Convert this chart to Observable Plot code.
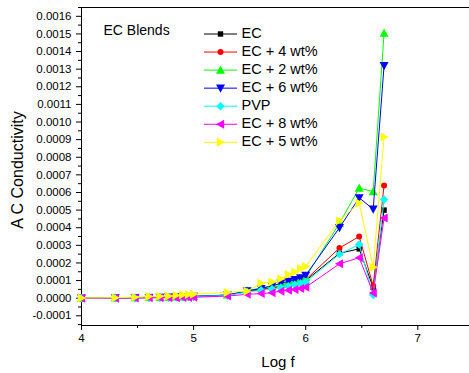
<!DOCTYPE html>
<html>
<head>
<meta charset="utf-8">
<script src="https://cdn.jsdelivr.net/npm/d3@7"></script>
<script src="https://cdn.jsdelivr.net/npm/@observablehq/plot@0.6"></script>
<style>
  html, body { margin: 0; padding: 0; background: #fff; }
  #chart svg { display: block; }
</style>
</head>
<body>
<div id="chart"></div>
<script>
// ---- data ----
const logF = [4, 4.301, 4.477, 4.602, 4.699, 4.778, 4.845, 4.903, 4.954, 5,
  5.301, 5.477, 5.602, 5.699, 5.778, 5.845, 5.903, 5.954, 6,
  6.301, 6.477, 6.602, 6.699];

const EC   = [0, 2, 3, 4, 5, 6, 6, 7, 8, 9, 16, 38, 48, 58, 66, 75, 84, 92, 100, 255, 280, 60, 500].map(v => v * 1e-6);
const EC4  = [0, 2, 3, 4, 5, 6, 7, 8, 9, 10, 17, 40, 50, 60, 70, 80, 90, 98, 105, 285, 350, 70, 640].map(v => v * 1e-6);
const EC2  = [0, 2, 3, 4, 5, 6, 7, 8, 9, 10, 18, 42, 58, 70, 80, 90, 100, 110, 120, 425, 625, 605, 1505].map(v => v * 1e-6);
const EC6  = [0, 2, 3, 4, 5, 6, 7, 8, 9, 10, 18, 42, 55, 70, 85, 95, 105, 115, 130, 400, 570, 505, 1320].map(v => v * 1e-6);
const PVP  = [0, 1, 2, 3, 4, 5, 6, 7, 8, 9, 15, 35, 45, 52, 60, 68, 76, 84, 92, 250, 305, 18, 560].map(v => v * 1e-6);
const EC8  = [-1, 0, 1, 2, 2, 3, 3, 4, 4, 5, 12, 22, 26, 31, 40, 45, 49, 55, 62, 195, 230, 30, 455].map(v => v * 1e-6);
const EC5  = [1, 3, 6, 9, 11, 13, 16, 19, 21, 23, 33, 40, 85, 92, 110, 135, 148, 168, 180, 440, 540, 176, 915].map(v => v * 1e-6);

const seriesNames = ["EC", "EC + 4 wt%", "EC + 2 wt%", "EC + 6 wt%", "PVP", "EC + 8 wt%", "EC + 5 wt%"];
const seriesValues = [EC, EC4, EC2, EC6, PVP, EC8, EC5];
const seriesColors = ["#000000", "#ff0000", "#00ff00", "#0000ff", "#00ffff", "#ff00ff", "#ffff00"];

const xTicks = [4, 5, 6, 7];
const xMinorTicks = [4.5, 5.5, 6.5];
const yTicks = [-0.0001, 0, 0.0001, 0.0002, 0.0003, 0.0004, 0.0005, 0.0006, 0.0007, 0.0008,
  0.0009, 0.0010, 0.0011, 0.0012, 0.0013, 0.0014, 0.0015, 0.0016];
const yMinorTicks = [-0.00015, -0.00005, 0.00005, 0.00015, 0.00025, 0.00035, 0.00045, 0.00055,
  0.00065, 0.00075, 0.00085, 0.00095, 0.00105, 0.00115, 0.00125, 0.00135, 0.00145, 0.00155, 0.00165];
const xDomain = [4, 7.461];
const yDomain = [-0.000155, 0.00165];

const chartTitle = "EC Blends";
const xLabel = "Log f";
const yLabel = "A C Conductivity";

// ---- symbols ----
function poly(pts) {
  return {
    draw(ctx, size) {
      const r = Math.sqrt(size / Math.PI);
      ctx.moveTo(pts[0][0] * r, pts[0][1] * r);
      for (let i = 1; i < pts.length; i++) ctx.lineTo(pts[i][0] * r, pts[i][1] * r);
      ctx.closePath();
    }
  };
}
const symSquare = poly([[-1, -1], [1, -1], [1, 1], [-1, 1]]);
const symUp = poly([[0, -1], [1, 0.8], [-1, 0.8]]);
const symDown = poly([[0, 1], [1, -0.8], [-1, -0.8]]);
const symLeft = poly([[-1, 0], [0.8, -1], [0.8, 1]]);
const symRight = poly([[1, 0], [-0.8, -1], [-0.8, 1]]);
const symDiamond = poly([[0, -1], [1, 0], [0, 1], [-1, 0]]);
const seriesSymbols = [symSquare, "circle", symUp, symDown, symDiamond, symLeft, symRight];
const seriesR = [2.7, 3, 4.5, 4.5, 4.2, 4.5, 4.5];

const rows = seriesNames.map((name, i) =>
  logF.map((x, j) => ({ series: name, x, y: seriesValues[i][j] })));

const marks = [];
rows.forEach((data, i) => {
  marks.push(Plot.line(data, { x: "x", y: "y", stroke: seriesColors[i], strokeWidth: 1 }));
  marks.push(Plot.dot(data, { x: "x", y: "y", fill: seriesColors[i], stroke: "none", symbol: seriesSymbols[i], r: seriesR[i] }));
});

const plot = Plot.plot({
  width: 469,
  height: 373,
  marginLeft: 81,
  marginRight: 0,
  marginTop: 7,
  marginBottom: 48,
  style: { fontFamily: "'Liberation Sans', Arial, sans-serif", fontSize: "11.5px", color: "#000", background: "#fff" },
  x: { domain: xDomain, label: null },
  y: { domain: yDomain, label: null },
  marks: [
    Plot.ruleY([yDomain[1]], { stroke: "#000", strokeWidth: 1 }),
    Plot.ruleY([yDomain[0]], { stroke: "#000", strokeWidth: 1 }),
    Plot.ruleX([xDomain[0]], { stroke: "#000", strokeWidth: 1 }),
    Plot.axisY({ ticks: yTicks, tickSize: 5, tickPadding: 5, tickFormat: d => (Math.abs(d) < 1e-12 ? 0 : d).toFixed(4), label: null }),
    Plot.axisY({ ticks: yMinorTicks.filter(v => v >= yDomain[0] && v <= yDomain[1]), tickSize: 3, tickFormat: () => "", label: null }),
    Plot.axisX({ ticks: xTicks, tickSize: 5, tickPadding: 3, tickFormat: d => String(d), label: null }),
    Plot.axisX({ ticks: xMinorTicks, tickSize: 3, tickFormat: () => "", label: null }),
    ...marks
  ]
});

document.getElementById("chart").appendChild(plot);

// ---- titles and legend ----
const svg = d3.select(plot);
const font = "'Liberation Sans', Arial, sans-serif";
svg.append("text")
  .attr("x", 19).attr("y", 170)
  .attr("transform", "rotate(-90, 19, 170)")
  .attr("text-anchor", "middle").attr("dominant-baseline", "middle")
  .attr("font-family", font).attr("font-size", 16).attr("fill", "#000")
  .text(yLabel);
svg.append("text")
  .attr("x", 278).attr("y", 363)
  .attr("text-anchor", "middle").attr("dominant-baseline", "middle")
  .attr("font-family", font).attr("font-size", 15).attr("fill", "#000")
  .text(xLabel);
svg.append("text")
  .attr("x", 103.5).attr("y", 31)
  .attr("text-anchor", "start").attr("dominant-baseline", "middle")
  .attr("font-family", font).attr("font-size", 14).attr("fill", "#000")
  .text(chartTitle);

const leg = svg.append("g");
seriesNames.forEach((name, i) => {
  const yy = 34 + i * 18.05;
  const g = leg.append("g");
  g.append("line").attr("x1", 204).attr("x2", 237).attr("y1", yy).attr("y2", yy)
    .attr("stroke", seriesColors[i]).attr("stroke-width", 1);
  const t = seriesSymbols[i] === "circle" ? d3.symbolCircle : seriesSymbols[i];
  g.append("path")
    .attr("d", d3.symbol().type(t).size(seriesR[i] * seriesR[i] * Math.PI)())
    .attr("transform", `translate(220.5,${yy})`)
    .attr("fill", seriesColors[i]);
  g.append("text").attr("x", 241.5).attr("y", yy)
    .attr("text-anchor", "start").attr("dominant-baseline", "middle")
    .attr("font-family", font).attr("font-size", 14.5).attr("fill", "#000")
    .text(name);
});
</script>
</body>
</html>
